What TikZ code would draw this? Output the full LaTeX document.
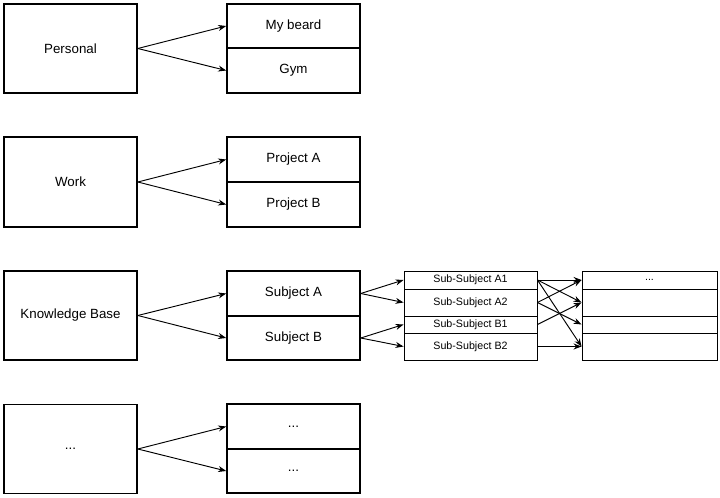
\documentclass[tikz,border=0pt]{standalone}
\usepackage{fontspec}
\setmainfont{Liberation Sans}
\usetikzlibrary{arrows.meta}
\begin{document}
\begin{tikzpicture}[x=0.75pt,y=-0.75pt,
  bx/.style={draw,line width=1.2pt,inner sep=0pt,font=\fontsize{10}{12}\selectfont},
  sb/.style={draw,line width=0.7pt,inner sep=0pt,font=\fontsize{8}{10}\selectfont},
  ar/.style={-{Stealth[length=6pt]},line width=0.7pt}]
\useasboundingbox (0,0) rectangle (720,498);
\newcommand\bxn[6]{\node[#1,minimum width=#4*0.75pt,minimum height=#5*0.75pt] (#2) at (#3) {#6};}
% left boxes
\bxn{bx}{p}{70.5,48.5}{133}{89}{Personal}
\bxn{bx}{w}{70.5,182}{133}{90}{Work}
\bxn{bx}{k}{70.5,315.5}{133}{89}{Knowledge Base}
\bxn{bx}{e}{70.5,449}{133}{89}{...}
% right boxes
\bxn{bx}{p1}{293.5,26}{133}{44}{My beard}
\bxn{bx}{p2}{293.5,70.5}{133}{45}{Gym}
\bxn{bx}{w1}{293.5,159.5}{133}{45}{Project A}
\bxn{bx}{w2}{293.5,204.5}{133}{45}{Project B}
\bxn{bx}{k1}{293.5,293.5}{133}{45}{Subject A}
\bxn{bx}{k2}{293.5,338}{133}{44}{Subject B}
\bxn{bx}{e1}{293.5,426.5}{133}{45}{...}
\bxn{bx}{e2}{293.5,471}{133}{44}{...}
% sub-subjects
\bxn{sb}{a1}{470.5,280}{133}{18}{Sub-Subject A1}
\bxn{sb}{a2}{470.5,302.5}{133}{27}{Sub-Subject A2}
\bxn{sb}{b1}{470.5,324.5}{133}{17}{Sub-Subject B1}
\bxn{sb}{b2}{470.5,346.5}{133}{27}{Sub-Subject B2}
\bxn{sb}{r1}{649.5,280}{135}{18}{...}
\bxn{sb}{r2}{649.5,302.5}{135}{27}{}
\bxn{sb}{r3}{649.5,324.5}{135}{17}{}
\bxn{sb}{r4}{649.5,346.5}{135}{27}{}
% arrows
\foreach \s/\t in {p/p1,p/p2,w/w1,w/w2,k/k1,k/k2,e/e1,e/e2,k1/a1,k1/a2,k2/b1,k2/b2,
  a1/r1,a1/r2,a1/r4,a2/r1,a2/r3,b1/r2,b2/r4}
  \draw[ar] (\s.east) -- (\t.west);
\end{tikzpicture}
\end{document}
